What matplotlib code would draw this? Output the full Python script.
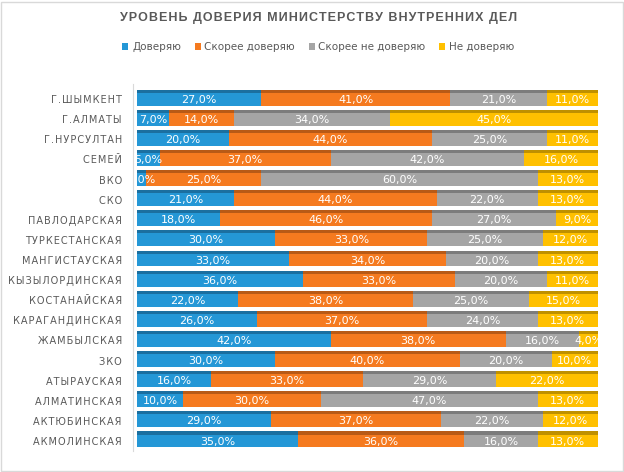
import matplotlib
matplotlib.use("Agg")
import matplotlib.pyplot as plt
from matplotlib.patches import Rectangle
import numpy as np

plt.rcParams['font.family'] = ['DejaVu Sans']

title = "УРОВЕНЬ ДОВЕРИЯ МИНИСТЕРСТВУ ВНУТРЕННИХ ДЕЛ"
series_names = ["Доверяю", "Скорее доверяю", "Скорее не доверяю", "Не доверяю"]
regions = ["Г.ШЫМКЕНТ", "Г.АЛМАТЫ", "Г.НУРСУЛТАН", "СЕМЕЙ", "ВКО", "СКО",
           "ПАВЛОДАРСКАЯ", "ТУРКЕСТАНСКАЯ", "МАНГИСТАУСКАЯ", "КЫЗЫЛОРДИНСКАЯ",
           "КОСТАНАЙСКАЯ", "КАРАГАНДИНСКАЯ", "ЖАМБЫЛСКАЯ", "ЗКО", "АТЫРАУСКАЯ",
           "АЛМАТИНСКАЯ", "АКТЮБИНСКАЯ", "АКМОЛИНСКАЯ"]
trust = [27, 7, 20, 5, 2, 21, 18, 30, 33, 36, 22, 26, 42, 30, 16, 10, 29, 35]
rather_trust = [41, 14, 44, 37, 25, 44, 46, 33, 34, 33, 38, 37, 38, 40, 33, 30, 37, 36]
rather_distrust = [21, 34, 25, 42, 60, 22, 27, 25, 20, 20, 25, 24, 16, 20, 29, 47, 22, 16]
distrust = [11, 45, 11, 16, 13, 13, 9, 12, 13, 11, 15, 13, 4, 10, 22, 13, 12, 13]

front_colors = ['#2497D6', '#F57A1F', '#A5A5A5', '#FFC000']
top_colors = ['#1B6FA0', '#B85A16', '#7C7C7C', '#BF9000']

def spaced(s, sep='\u2009'):
    return sep.join(s)

fig = plt.figure(figsize=(6.24, 4.72), dpi=100)
fig.patch.set_facecolor('white')
fig.patches.append(Rectangle((0.002, 0.002), 0.996, 0.994, transform=fig.transFigure,
                             fill=False, edgecolor='#D9D9D9', linewidth=1.0))

ax = fig.add_axes([0.2196, 0.0445, 0.7384, 0.7775])
data = [trust, rather_trust, rather_distrust, distrust]
y = np.arange(len(regions))
h = 0.64
th = 0.15
left = np.zeros(len(regions))
for k, vals in enumerate(data):
    vals = np.array(vals, dtype=float)
    ax.barh(y, vals, left=left, height=h, color=front_colors[k], label=series_names[k],
            edgecolor='none', zorder=3)
    ax.barh(y - h / 2 - th / 2, vals, left=left, height=th, color=top_colors[k],
            edgecolor='none', zorder=3)
    for yi, (l, v) in enumerate(zip(left, vals)):
        ax.text(l + v / 2, yi + 0.03, f"{v:.1f}%".replace('.', ','), ha='center', va='center',
                color='white', fontsize=8, zorder=5, clip_on=True)
    left = left + vals
# right end caps
ax.barh(y - th / 2, 0.8, left=left, height=h + th, color=top_colors[3], edgecolor='none', zorder=3)

ax.set_xlim(0, 100)
ax.set_ylim(len(regions) - 0.5, -0.75)
ax.set_yticks(y)
ax.set_yticklabels([spaced(r, '\u200a') for r in regions])
ax.tick_params(axis='y', length=0, pad=8, labelsize=7, labelcolor='#595959')
for lbl in ax.get_yticklabels():
    lbl.set_family(['Liberation Sans', 'DejaVu Sans'])
ax.set_xticks([])
for s in ['top', 'right', 'bottom']:
    ax.spines[s].set_visible(False)
ax.spines['left'].set_color('#D9D9D9')
ax.spines['left'].set_position(('outward', 3))

fig.text(0.51, 0.962, spaced(title, '\u200a'), ha='center', va='center', fontsize=9,
         fontweight='bold', color='#595959', family=['Liberation Sans', 'DejaVu Sans'])

handles, labels = ax.get_legend_handles_labels()
fig.legend(handles, labels, loc='center', bbox_to_anchor=(0.51, 0.9), ncol=4, frameon=False,
           fontsize=7.5, handlelength=0.6, handleheight=0.6, handletextpad=0.35,
           columnspacing=1.3, labelcolor='#595959')

fig.savefig('out.png', dpi=100, facecolor='white')
